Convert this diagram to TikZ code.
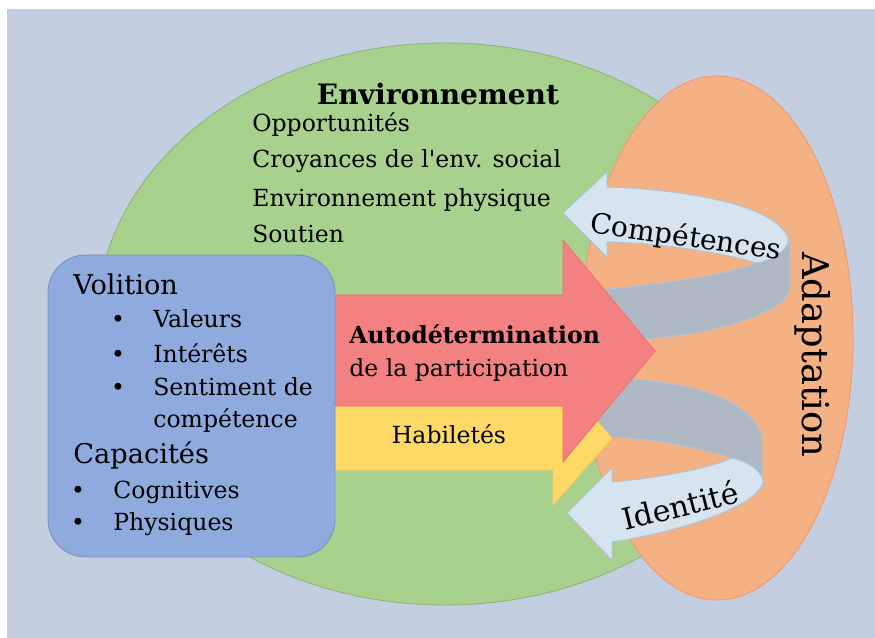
\documentclass[tikz,border=0pt]{standalone}
\usepackage{fontspec}
\setmainfont{DejaVu Serif}
\usepackage{tikz}
\definecolor{fond}{HTML}{C3CFE0}
\definecolor{vert}{HTML}{A9D18E}
\definecolor{peche}{HTML}{F4B183}
\definecolor{bleubox}{HTML}{8FAADC}
\definecolor{rouge}{HTML}{F38181}
\definecolor{jaune}{HTML}{FFD966}
\definecolor{bleupale}{HTML}{D5E4EE}
\definecolor{grisdos}{HTML}{ADB8C3}
\definecolor{bleutrait}{HTML}{A9C4E4}

\begin{document}
\begin{tikzpicture}[x=0.02cm,y=-0.02cm,
  txt/.style={font=\fontsize{13.4}{16}\selectfont,inner sep=0pt,anchor=base west},
  titre/.style={txt,font=\fontsize{15.5}{18}\selectfont},
  gras/.style={txt,font=\bfseries\fontsize{13.4}{16}\selectfont},
  puce/.style={txt,font=\fontsize{13.4}{16}\selectfont,anchor=base},
  ruban/.style={fill=bleupale,draw=bleutrait,line width=0.5pt},
  dos/.style={fill=grisdos,draw=bleutrait,line width=0.5pt}]
\useasboundingbox (0,0) rectangle (875,638);
\fill[fond] (7,9) rectangle (875,638);
\draw[fill=vert,draw=vert!85!black,line width=0.5pt] (445,324) ellipse [x radius=349,y radius=281];
\draw[fill=peche,draw=peche!85!red,line width=0.5pt] (717,338) ellipse [x radius=136,y radius=262];
% back faces of the two loops
\draw[dos] (600,290) .. controls (660,284) and (730,275) .. (757,263) .. controls (775,257) and (789,250) .. (790,240) -- (790,288)
  .. controls (786,312) and (720,332) .. (657,338) -- (600,342) -- cycle;
\draw[dos] (590,376) .. controls (690,380) and (755,398) .. (762,440) -- (762,478) .. controls (758,468) and (748,462) .. (732,458)
  .. controls (690,445) and (640,438) .. (613,437) -- (590,437) -- cycle;
% Habiletes and Autodetermination
\draw[fill=jaune,draw=jaune!85!orange,line width=0.5pt] (320,406) -- (553,406) -- (553,371) -- (612,438) -- (553,505) -- (553,470) -- (320,470) -- cycle;
\draw[fill=rouge,draw=rouge!85!red,line width=0.5pt] (320,295) -- (563,295) -- (563,240) -- (655,351) -- (563,462) -- (563,406) -- (320,406) -- cycle;
% front faces
\draw[ruban] (563,213) -- (607,172) -- (607,187) .. controls (690,190) and (770,205) .. (787,235) .. controls (792,245) and (780,258) .. (757,263)
  .. controls (720,252) and (660,243) .. (607,242) -- (607,257) -- cycle;
\draw[ruban] (567,513) -- (612,468) -- (612,482) .. controls (660,478) and (710,468) .. (732,458) .. controls (748,462) and (760,470) .. (763,480)
  .. controls (765,500) and (700,528) .. (612,542) -- (612,560) -- cycle;
\node[draw=bleubox!85!black,fill=bleubox,line width=0.5pt,rounded corners=0.75cm,minimum width=5.74cm,minimum height=6.04cm] (perso) at (191.5,406) {};

\node[gras,font=\bfseries\fontsize{16}{19}\selectfont,anchor=base] (env) at (438,105) {Environnement};
\foreach \t/\y [count=\i] in {Opportunités/132,Croyances de l\textquotesingle env. social/168,Environnement physique/207,Soutien/243}
  \node[txt] (env\i) at (252,\y) {\t};

\node[gras] (auto) at (349,343) {Autodétermination};
\node[txt] (part) at (349,377) {de la participation};
\node[txt,anchor=base] (hab) at (449,443) {Habiletés};

\node[titre] (vol) at (73,295) {Volition};
\foreach \t/\y [count=\i] in {Valeurs/328,Intérêts/362,Sentiment de/395}{
  \node[puce] (pv\i) at (118,\y) {•};
  \node[txt] (v\i) at (153,\y) {\t};}
\node[txt] (v4) at (153,427) {compétence};
\node[titre] (cap) at (73,463) {Capacités};
\foreach \t/\y [count=\i] in {Cognitives/498,Physiques/530}{
  \node[puce] (pc\i) at (78,\y) {•};
  \node[txt] (c\i) at (113,\y) {\t};}

\node[font=\fontsize{16}{19}\selectfont,rotate=-8] (comp) at (686,238) {Compétences};
\node[font=\fontsize{17}{20}\selectfont,rotate=14] (ident) at (680,505) {Identité};
\node[font=\fontsize{21}{25}\selectfont,rotate=-90] (adapt) at (813,355) {Adaptation};
\end{tikzpicture}
\end{document}
